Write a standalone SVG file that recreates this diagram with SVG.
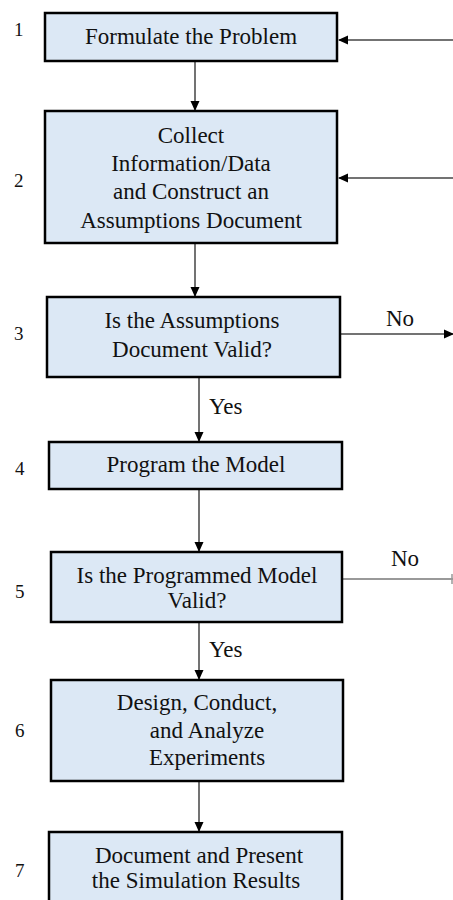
<svg xmlns="http://www.w3.org/2000/svg" width="453" height="900" viewBox="0 0 453 900" font-family="Liberation Serif, Times New Roman, Tinos, Noto Serif, DejaVu Serif, serif">
<style>
.box{fill:#dce8f5;stroke:#000;stroke-width:2.5}
text{font-size:23px;fill:#111}
.t{text-anchor:middle}
.n{font-size:19px}
.c{stroke:#444;stroke-width:1.5;fill:none}
.g{stroke:#999;stroke-width:2;fill:none}
</style>
<defs>
<marker id="a" markerWidth="10" markerHeight="10" refX="9" refY="5" orient="auto" markerUnits="userSpaceOnUse">
<path d="M0,0.5 L10,5 L0,9.5 z" fill="#000"/>
</marker>
</defs>
<rect width="453" height="900" fill="#fff"/>
<g id="connectors">
<line class="c" x1="195" y1="61" x2="195" y2="110" marker-end="url(#a)"/>
<line class="c" x1="195" y1="243" x2="195" y2="296" marker-end="url(#a)"/>
<line class="c" x1="199" y1="377" x2="199" y2="441" marker-end="url(#a)"/>
<line class="c" x1="199" y1="489" x2="199" y2="551" marker-end="url(#a)"/>
<line class="c" x1="199" y1="622" x2="199" y2="679" marker-end="url(#a)"/>
<line class="c" x1="199" y1="781" x2="199" y2="831" marker-end="url(#a)"/>
<line class="c" x1="453" y1="40" x2="339" y2="40" marker-end="url(#a)"/>
<line class="c" x1="453" y1="178" x2="339" y2="178" marker-end="url(#a)"/>
<line class="c" x1="341" y1="334" x2="453" y2="334" marker-end="url(#a)"/>
<line class="g" x1="343" y1="579" x2="453" y2="579"/>
<line x1="452" y1="574" x2="452" y2="584" stroke="#999" stroke-width="1.5"/>
<text x="386" y="326">No</text>
<text x="391" y="566">No</text>
<text x="209" y="414">Yes</text>
<text x="209" y="657">Yes</text>
</g>
<g id="n1">
<text class="n" x="14" y="36">1</text>
<rect class="box" x="45" y="13" width="292" height="48"/>
<text class="t" x="191" y="44">Formulate the Problem</text>
</g>
<g id="n2">
<text class="n" x="14" y="187">2</text>
<rect class="box" x="45" y="111" width="292" height="132"/>
<text class="t" x="191" y="143">Collect</text>
<text class="t" x="191" y="171">Information/Data</text>
<text class="t" x="191" y="199">and Construct an</text>
<text class="t" x="191" y="228">Assumptions Document</text>
</g>
<g id="n3">
<text class="n" x="14" y="340">3</text>
<rect class="box" x="47" y="297" width="293" height="80"/>
<text class="t" x="192" y="328">Is the Assumptions</text>
<text class="t" x="192" y="357">Document Valid?</text>
</g>
<g id="n4">
<text class="n" x="15" y="475">4</text>
<rect class="box" x="49" y="442" width="293" height="47"/>
<text class="t" x="196" y="472">Program the Model</text>
</g>
<g id="n5">
<text class="n" x="15" y="598">5</text>
<rect class="box" x="51" y="552" width="291" height="70"/>
<text class="t" x="197" y="583">Is the Programmed Model</text>
<text class="t" x="197" y="608">Valid?</text>
</g>
<g id="n6">
<text class="n" x="15" y="737">6</text>
<rect class="box" x="51" y="680" width="292" height="101"/>
<text class="t" x="197" y="710">Design, Conduct,</text>
<text class="t" x="207" y="738">and Analyze</text>
<text class="t" x="207" y="765">Experiments</text>
</g>
<g id="n7">
<text class="n" x="15" y="877">7</text>
<rect class="box" x="49" y="832" width="293" height="80"/>
<text class="t" x="199" y="863">Document and Present</text>
<text class="t" x="196" y="888">the Simulation Results</text>
</g>
</svg>
